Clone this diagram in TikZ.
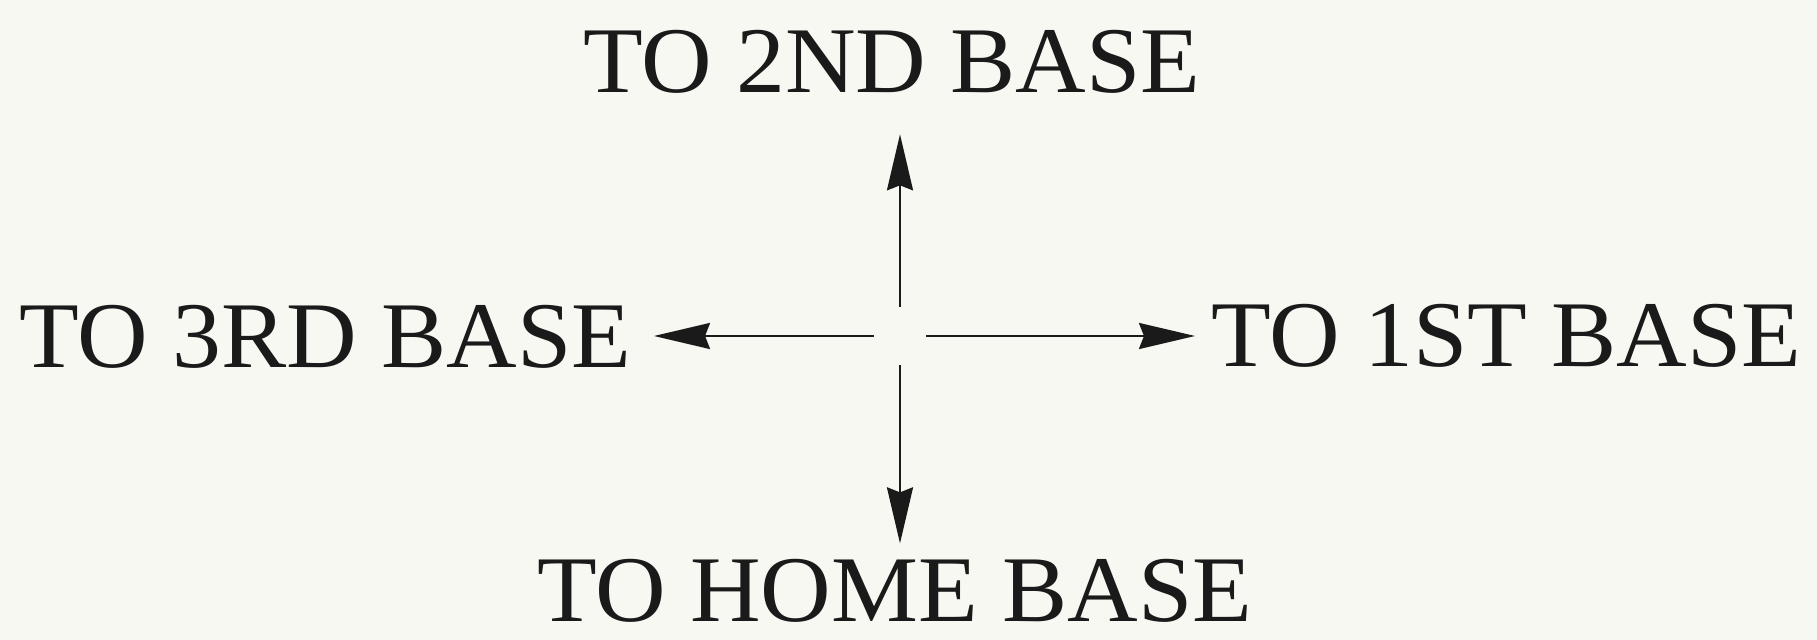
\documentclass[tikz,border=0pt]{standalone}
\usepackage{fontspec}
\setmainfont[FakeStretch=1.04]{Liberation Serif}
\usepackage{tikz}
\usetikzlibrary{arrows.meta, positioning, calc}
\definecolor{paper}{HTML}{F8F8F3}
\definecolor{ink}{HTML}{1A1A1A}

\begin{document}
\begin{tikzpicture}[
x=0.5pt, y=-0.5pt,
label/.style={
inner sep=0pt,
font=\fontsize{47}{50}\selectfont,
text=ink
},
arrow/.style={-{Stealth[length=28pt, width=13pt, inset=2.5pt]}, line width=1.2pt, ink}
]

\fill[paper] (0,0) rectangle (1817,640);
\useasboundingbox (0,0) rectangle (1817,640);

\node[label, anchor=base] (second) at (892,93) {TO 2ND BASE};
\node[label, anchor=base east] (third) at (632,368) {TO 3RD BASE};
\node[label, anchor=base west] (first) at (1211,367) {TO 1ST BASE};
\node[label, anchor=base] (home) at (895,622) {TO HOME BASE};

\node[minimum width=26pt, minimum height=29pt, inner sep=0pt] (mid) at (900,336) {};


\draw[arrow, shorten >=20pt] (mid.north) -- (mid.north |- second.south);
\draw[arrow, shorten >=11pt] (mid.west) -- (mid.west -| third.east);
\draw[arrow, shorten >=8pt] (mid.east) -- (mid.east -| first.west);
\draw[arrow, shorten >=8pt] (mid.south) -- (mid.south |- home.north);

\end{tikzpicture}
\end{document}
